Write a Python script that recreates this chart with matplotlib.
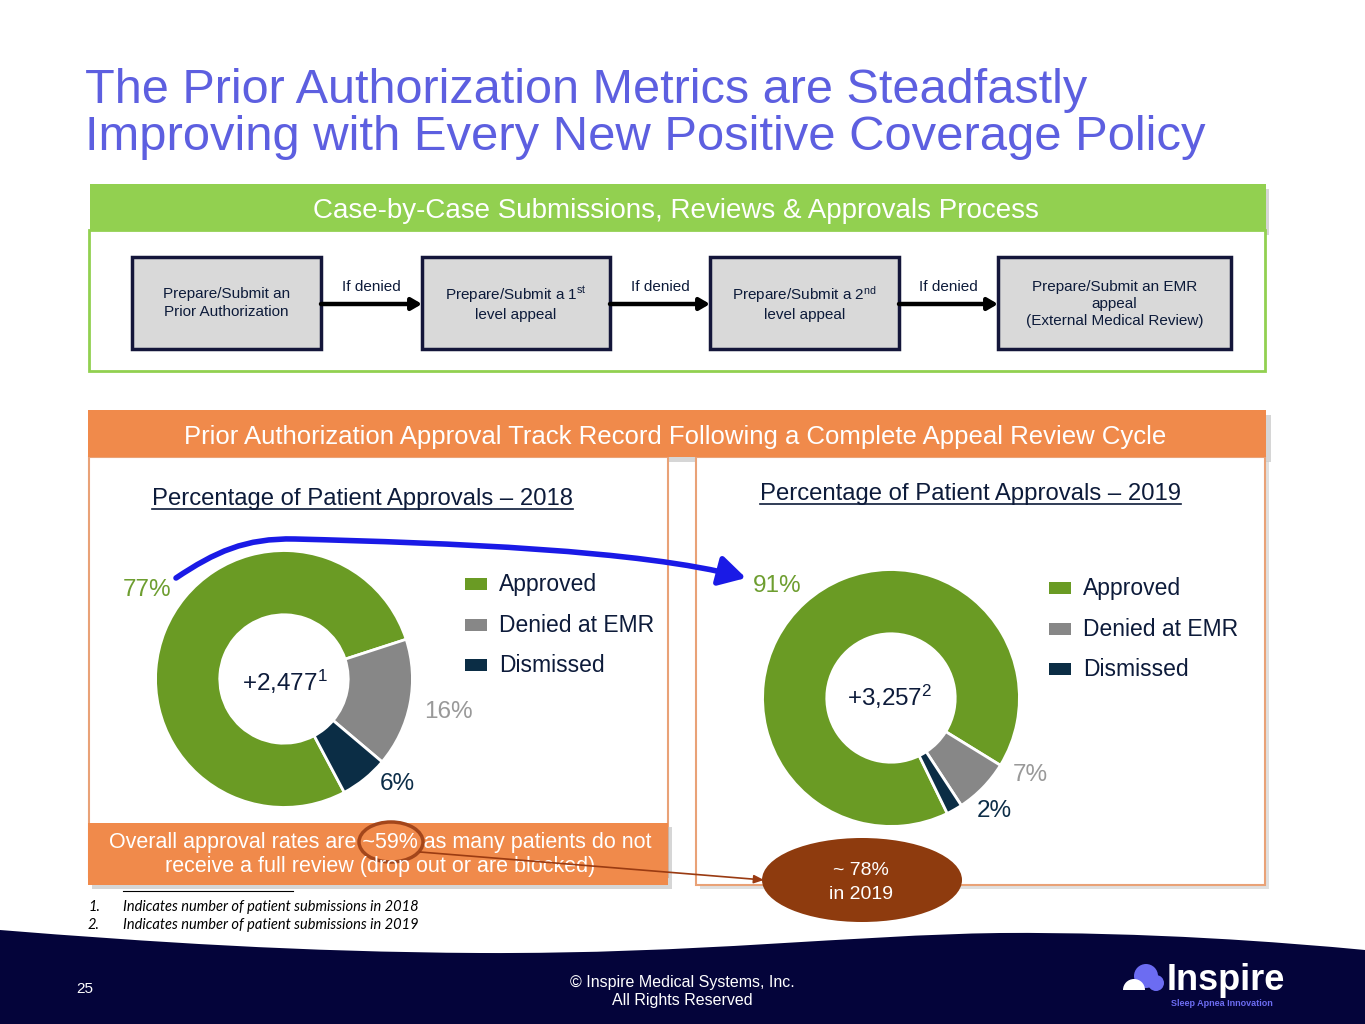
import numpy as np
import matplotlib
matplotlib.use('Agg')
import matplotlib.pyplot as plt
from matplotlib.patches import Rectangle, Ellipse, FancyArrowPatch, PathPatch, Circle, Wedge
from matplotlib.path import Path

plt.rcParams['font.family'] = ['Liberation Sans', 'DejaVu Sans']
plt.rcParams['mathtext.fontset'] = 'custom'
plt.rcParams['mathtext.rm'] = 'Liberation Sans'
plt.rcParams['mathtext.it'] = 'Liberation Sans:italic'

# data
categories = ['Approved', 'Denied at EMR', 'Dismissed']
share_2018 = [77, 16, 6]
share_2019 = [91, 7, 2]
total_2018 = '+2,477'
total_2019 = '+3,257'
steps = ['Prepare/Submit an\nPrior Authorization',
         'Prepare/Submit a 1$^{\\rm st}$\nlevel appeal',
         'Prepare/Submit a 2$^{\\rm nd}$\nlevel appeal',
         'Prepare/Submit an EMR\nappeal\n(External Medical Review)']

colores = ['#6A9B24', '#878787', '#0B2D45']
label_cols = ['#6E9E30', '#999999', '#0C2D48']
navy = '#0D1B3A'
orange = '#F08A4B'
green_hdr = '#92D050'

W, H = 1365, 1024
fig = plt.figure(figsize=(W / 100, H / 100), dpi=100)
ax = fig.add_axes([0, 0, 1, 1])
ax.set_xlim(0, W)
ax.set_ylim(H, 0)
ax.axis('off')

# title
title_col = '#5D5FE0'
ax.text(85, 103, 'The Prior Authorization Metrics are Steadfastly', fontsize=35,
        color=title_col, va='baseline')
ax.text(85, 150, 'Improving with Every New Positive Coverage Policy', fontsize=35.3,
        color=title_col, va='baseline')

# green process section
ax.add_patch(Rectangle((93, 189), 1176, 46, fc='#BBBBBB', ec='none', alpha=.6))
ax.add_patch(Rectangle((89, 230), 1176, 141, fc='white', ec=green_hdr, lw=2))
ax.add_patch(Rectangle((90, 184), 1176, 46, fc=green_hdr, ec='none'))
ax.text(676, 218, 'Case-by-Case Submissions, Reviews & Approvals Process', fontsize=20,
        color='white', ha='center', va='baseline')

box_x = [(132, 321), (422, 610), (710, 899), (998, 1231)]
for i, (x0, x1) in enumerate(box_x):
    ax.add_patch(Rectangle((x0, 257), x1 - x0, 92, fc='#D9D9D9', ec='#14163A', lw=2.5))
    ax.text((x0 + x1) / 2, 303 if i < 3 else 304, steps[i], fontsize=11, color=navy,
            ha='center', va='center', linespacing=1.3)
    if i < 3:
        nx = box_x[i + 1][0]
        ax.annotate('', xy=(nx, 304), xytext=(x1, 304),
                    arrowprops=dict(arrowstyle='-|>,head_length=0.6,head_width=0.35',
                                    color='black', lw=3.2, shrinkA=0, shrinkB=0))
        ax.text((x1 + nx) / 2, 291, 'If denied', fontsize=11, color=navy,
                ha='center', va='baseline')

# orange section
ax.add_patch(Rectangle((93, 415), 1178, 47, fc='#BBBBBB', ec='none', alpha=.6))
ax.add_patch(Rectangle((700, 461), 569, 428, fc='#CCCCCC', ec='none', alpha=.6))
ax.add_patch(Rectangle((89, 457), 579, 420, fc='white', ec='#E9A277', lw=1.5))
ax.add_patch(Rectangle((696, 457), 569, 428, fc='white', ec='#E9A277', lw=1.5))
ax.add_patch(Rectangle((88, 410), 1178, 47, fc=orange, ec='none'))
ax.text(675, 444, 'Prior Authorization Approval Track Record Following a Complete Appeal Review Cycle',
        fontsize=18.5, color='white', ha='center', va='baseline')

# chart titles (underlined)
t1 = ax.text(152, 505, 'Percentage of Patient Approvals \u2013 2018', fontsize=17.2,
             color=navy, va='baseline')
t2 = ax.text(760, 500, 'Percentage of Patient Approvals \u2013 2019', fontsize=17.2,
             color=navy, va='baseline')


def donut(cx, cy, r, vals, start):
    dax = fig.add_axes([(cx - r) / W, 1 - (cy + r) / H, 2 * r / W, 2 * r / H])
    dax.pie(vals, colors=colores, startangle=start, counterclock=False, radius=1,
            wedgeprops=dict(width=0.5, edgecolor='white', linewidth=2))
    dax.set_xlim(-1.02, 1.02)
    dax.set_ylim(-1.02, 1.02)
    dax.set_facecolor('none')
    dax.axis('off')


donut(284, 679, 131, share_2018, -62)
donut(891, 698, 131, share_2019, -64)

ax.text(285, 691, total_2018 + '$^{1}$', fontsize=17.5, color=navy, ha='center', va='baseline')
ax.text(890, 706, total_2019 + '$^{2}$', fontsize=17.5, color=navy, ha='center', va='baseline')

# percentage labels
pos_2018 = [(147, 596), (448, 718), (397, 790)]
pos_2019 = [(777, 592), (1030, 781), (994, 817)]
for i in range(3):
    ax.text(*pos_2018[i], f'{share_2018[i]}%', fontsize=17.5, color=label_cols[i],
            ha='center', va='baseline')
    ax.text(*pos_2019[i], f'{share_2019[i]}%', fontsize=17.5, color=label_cols[i],
            ha='center', va='baseline')

# legends
for lx, ly in [(465, 584), (1049, 588)]:
    for i, c in enumerate(categories):
        yy = ly + i * 40.5
        ax.add_patch(Rectangle((lx, yy - 6), 22, 12, fc=colores[i], ec='none'))
        ax.text(lx + 34, yy + 7, c, fontsize=16.5, color=navy, va='baseline')

# blue arrow
bpath = Path([(176, 578), (215, 552), (245, 538), (295, 539),
              (450, 543), (640, 550), (746, 578)],
             [Path.MOVETO, Path.CURVE4, Path.CURVE4, Path.CURVE4,
              Path.CURVE4, Path.CURVE4, Path.CURVE4])
ax.add_patch(FancyArrowPatch(path=bpath, arrowstyle='-|>,head_length=0.8,head_width=0.45',
                             mutation_scale=20, color='#1A1AE6', lw=4))

# callout
ax.add_patch(Rectangle((92, 827), 580, 62, fc='#BBBBBB', ec='none', alpha=.6))
ax.add_patch(Rectangle((88, 823), 580, 62, fc=orange, ec='none'))
ax.text(380, 848, 'Overall approval rates are ~59% as many patients do not', fontsize=15.5,
        color='white', ha='center', va='baseline')
ax.text(380, 872, 'receive a full review (drop out or are blocked)', fontsize=15.5,
        color='white', ha='center', va='baseline')
ax.add_patch(Ellipse((391, 842), 64, 40, fc='none', ec='#A3461B', lw=2.5))
ax.annotate('', xy=(764, 880), xytext=(420, 852),
            arrowprops=dict(arrowstyle='-|>,head_length=0.6,head_width=0.25',
                            color='#9A3B12', lw=1.2, shrinkA=0, shrinkB=0))
ax.add_patch(Ellipse((862, 880), 200, 84, fc='#8E3B0E', ec='none'))
ax.text(861, 875, '~ 78%', fontsize=14, color='white', ha='center', va='baseline')
ax.text(861, 899, 'in 2019', fontsize=14, color='white', ha='center', va='baseline')

# footnotes
ax.plot([123, 293], [891, 891], color='black', lw=0.8)
for j, note in enumerate(['Indicates number of patient submissions in 2018',
                          'Indicates number of patient submissions in 2019']):
    y = 911 + j * 18
    ax.text(88, y, f'{j + 1}.', fontsize=10.5, style='italic', color='black', va='baseline',
            family=['Lato', 'DejaVu Sans'])
    ax.text(123, y, note, fontsize=10.5, style='italic', color='black', va='baseline',
            family=['Lato', 'DejaVu Sans'])

# footer band
fpath = Path([(0, 930), (150, 942), (300, 952), (480, 953),
              (700, 954), (850, 935), (1000, 933),
              (1150, 932), (1280, 942), (1365, 950),
              (1365, 1024), (0, 1024), (0, 930)],
             [Path.MOVETO, Path.CURVE4, Path.CURVE4, Path.CURVE4,
              Path.CURVE4, Path.CURVE4, Path.CURVE4,
              Path.CURVE4, Path.CURVE4, Path.CURVE4,
              Path.LINETO, Path.LINETO, Path.CLOSEPOLY])
ax.add_patch(PathPatch(fpath, fc='#04043A', ec='none'))
ax.text(85, 993, '25', fontsize=11, color='white', ha='center', va='baseline')
ax.text(682, 987, '\u00a9 Inspire Medical Systems, Inc.', fontsize=11.5, color='white',
        ha='center', va='baseline')
ax.text(682, 1005, 'All Rights Reserved', fontsize=11.5, color='white',
        ha='center', va='baseline')

# logo
ax.add_patch(Circle((1146, 976), 12, fc='#6C6CF2', ec='none'))
ax.add_patch(Circle((1156, 983), 8, fc='#6C6CF2', ec='none'))
ax.add_patch(Wedge((1134, 990), 11, 180, 360, fc='white', ec='none'))
ax.text(1167, 990, 'Inspire', fontsize=26, fontweight='bold', color='white', va='baseline')
ax.text(1222, 1006, 'Sleep Apnea Innovation', fontsize=6.5, fontweight='bold',
        color='#6C6CF2', ha='center', va='baseline')

# underline the chart titles
fig.canvas.draw()
inv = ax.transData.inverted()
for t in (t1, t2):
    bb = t.get_window_extent()
    (xa, _), (xb, _) = inv.transform([[bb.x0, bb.y0], [bb.x1, bb.y0]])
    _, yb = t.get_position()
    ax.plot([xa, xb], [yb + 3.5, yb + 3.5], color=navy, lw=1.2)

fig.savefig('out.png', dpi=100)
